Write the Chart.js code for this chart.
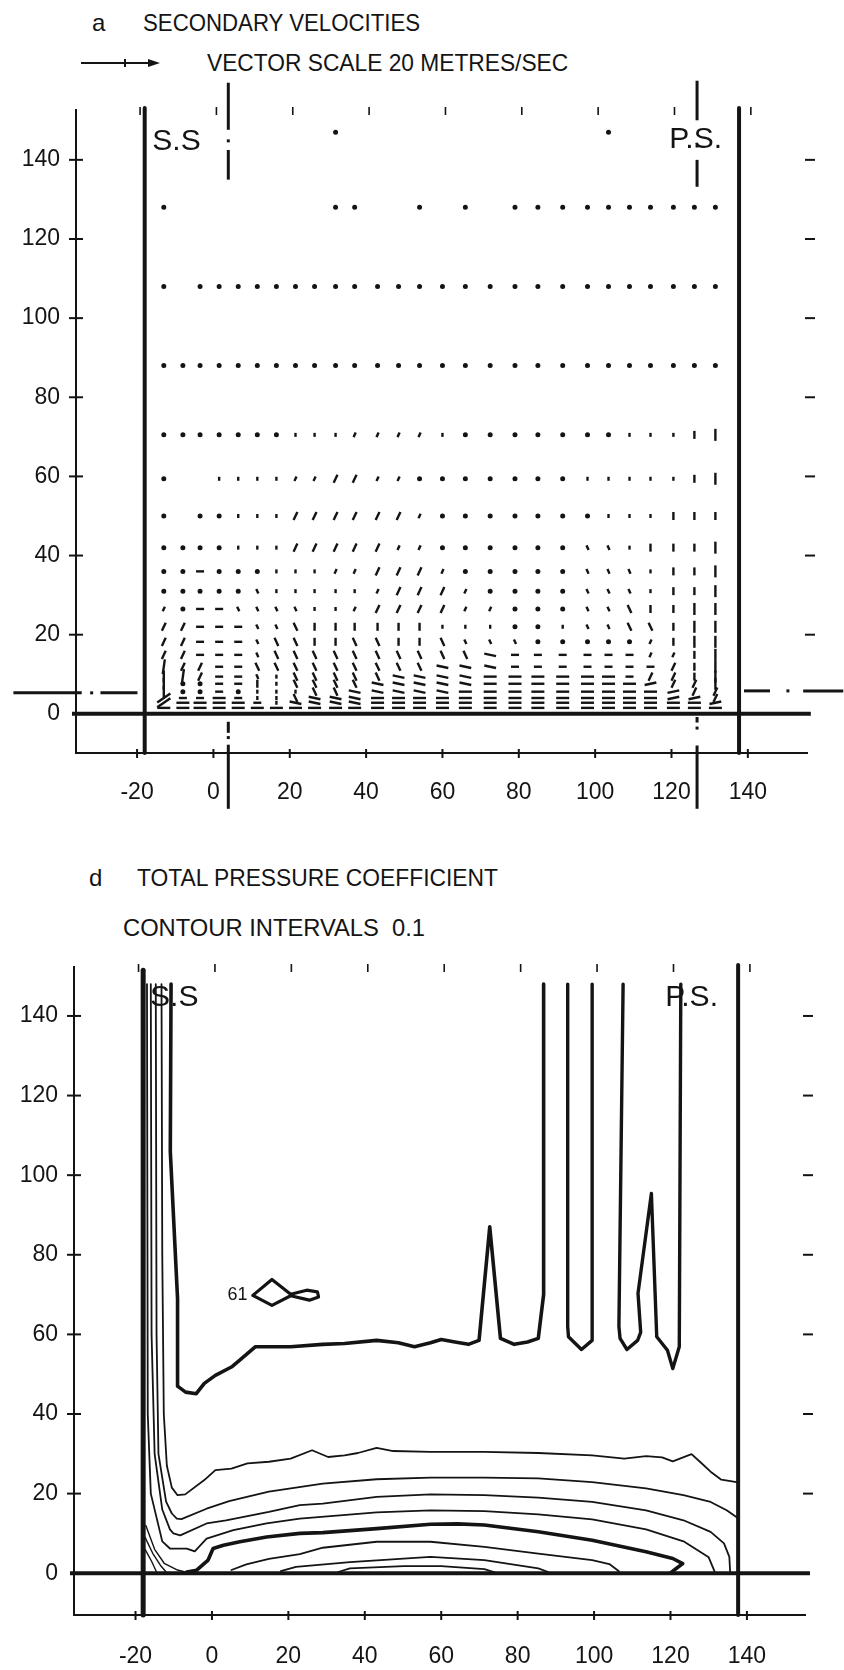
<!DOCTYPE html>
<html>
<head>
<meta charset="utf-8">
<script src="https://cdn.jsdelivr.net/npm/chart.js@4.4.1/dist/chart.umd.min.js"></script>
<style>
  html, body { margin: 0; padding: 0; background: #fff; }
  body { width: 844px; height: 1670px; position: relative; overflow: hidden;
         font-family: 'Liberation Sans Narrow', 'Liberation Sans', sans-serif; color: #141414; }
  .txt { position: absolute; white-space: nowrap; font-size: 24px; line-height: 1; transform-origin: 0 50%; }
  canvas { position: absolute; left: 0; }
</style>
</head>
<body>
<div class="txt" style="left:92px; top:11px;">a</div>
<div class="txt fit" data-w="277" style="left:143px; top:11px;">SECONDARY VELOCITIES</div>
<svg style="position:absolute; left:78px; top:55px;" width="90" height="16">
  <line x1="3" y1="8" x2="74" y2="8" stroke="#141414" stroke-width="2"/>
  <line x1="47" y1="4" x2="47" y2="12" stroke="#141414" stroke-width="2"/>
  <polygon points="70,4 82,8 70,12" fill="#141414"/>
</svg>
<div class="txt fit" data-w="361" style="left:207px; top:51px;">VECTOR SCALE 20 METRES/SEC</div>

<div class="txt" style="left:89px; top:866px;">d</div>
<div class="txt fit" data-w="361" style="left:137px; top:866px;">TOTAL PRESSURE COEFFICIENT</div>
<div class="txt fit" data-w="302" style="left:123px; top:916px;">CONTOUR INTERVALS&nbsp; 0.1</div>

<canvas id="panelA" width="844" height="830" style="top:0px; width:844px; height:830px;"></canvas>
<canvas id="panelD" width="844" height="830" style="top:840px; width:844px; height:830px;"></canvas>

<script>
const ink = '#141414';
const FONT = "'Liberation Sans Narrow', 'Liberation Sans', sans-serif";

// axis ticks, shared by both panels
const xTickValues = [-20, 0, 20, 40, 60, 80, 100, 120, 140];
const yTickValues = [0, 20, 40, 60, 80, 100, 120, 140];

// blade surfaces (suction side / pressure side)
const wallSS = -18;
const wallPS = 137.7;

// ---- panel a: secondary velocity vectors ----
const vecColX = [-13, -8, -3.5, 1.5, 6.5, 11.5, 16.5, 21.5, 26.5, 32, 37, 43, 48.5, 54, 60, 66, 72.5, 79, 85, 91.5, 98, 103.5, 109, 114.5, 120.5, 126, 131.5];
const vecRowY = [147, 128, 108, 88, 70.5, 59.4, 50, 42, 36, 31, 26.5, 22, 18.2, 14.9, 11.9, 9.4, 7.6, 5.6, 4, 2.8, 1.5];
// one glyph per grid column (see vecGlyphs for the meaning)
const vecRows = [
  "         .           .     ",
  ".        ..  . . ..........",
  ". .........................",
  "...........................",
  ".......iii,,,,i.......iiiI|",
  ".  iiii,,//,,.......iiiiiI|",
  ". ..iii//////,.......iiiIII",
  "....iii/////,,......cciIII|",
  "..-...iii,,///,.....ccciII|",
  ".....ciiiii,///,....ccciII|",
  ",.--ccccii,////,,...cckII||",
  "//---cckIIIIIIiii..icckkI||",
  "//---ckkIIkkIIkccc.....,I||",
  "//---ckkkkkkkkkk<------,,I|",
  "(//--kkkkkkkkk<<<-------/I|",
  "|(/--cikkkkk<<<<======-//I|",
  "|..--Iikkkk<<<<<=======>//|",
  "|..-.iiikk<<<<<=========>//",
  "7--=-iik<<<=============>>/",
  "7====-i<<<<===============>",
  "==========================="
];
// glyph -> stroke length (px) and direction (deg)
const vecGlyphs = {
  '.': { len: 0, ang: 0 },
  'i': { len: 4, ang: 90 }, 'I': { len: 8, ang: 90 }, '|': { len: 12, ang: 90 },
  ',': { len: 5, ang: 65 }, '/': { len: 9, ang: 65 }, '7': { len: 16, ang: 35 },
  'c': { len: 5, ang: 115 }, 'k': { len: 9, ang: 115 },
  '-': { len: 8, ang: 0 }, '=': { len: 13, ang: 0 },
  '>': { len: 12, ang: 12 }, '<': { len: 12, ang: 168 },
  '(': { len: 15, ang: 82 }
};

// chain (pitch) lines of panel a: [x1, y1, x2, y2] and single dots
const chainSegsA = [
  [3.9, 159.5, 3.9, 147.6], [3.9, 142.5, 3.9, 135], [3.9, -2, 3.9, -4.8], [3.9, -7.8, 3.9, -24],
  [126.7, 160, 126.7, 150], [126.7, 140, 126.7, 133.2], [126.7, -0.8, 126.7, -2.2], [126.7, -8, 126.7, -24],
  [-52.4, 5.3, -34.5, 5.3], [-29.6, 5.3, -19.9, 5.3],
  [139, 5.8, 145.8, 5.8], [154.5, 5.8, 165, 5.8]
];
const chainDotsA = [[3.9, 144.8], [3.9, -6], [126.7, 143.5], [126.7, -3.6], [-31.9, 5.3], [150.5, 5.8]];

// ---- panel d: total pressure contours ----
const cThickUpper = [[-10.7, 148], [-10.9, 106], [-9.0, 69], [-9.0, 47], [-6.9, 45.5], [-4.1, 45.1], [-2, 47.7], [0.9, 49.7], [5.1, 51.8], [7.2, 53.5], [11.4, 56.9], [20.6, 56.9], [29, 57.5], [34.7, 57.7], [43.1, 58.5], [48.8, 57.9], [53, 56.9], [57.2, 57.9], [60, 58.7], [63.6, 58.1], [67.1, 57.5], [69.9, 58.5], [72.7, 87], [75.5, 59], [79.1, 57.5], [82.6, 58.1], [85.4, 59], [86.8, 70], [86.8, 148]];
const cNotch1 = [[93.1, 148], [93.1, 62], [93.3, 59.4], [96.7, 56.2], [99.5, 58.5], [99.5, 148]];
const cNotch2 = [[107.6, 148], [106.5, 62], [106.8, 59], [108.6, 56.2], [111.4, 58.5], [112.2, 60.5], [111.5, 70.3], [115, 95.4], [116.4, 59.4], [119.2, 56], [120.6, 51.4], [122.3, 56.9], [122.7, 148]];
const cLoop61 = [[10.7, 69.8], [15.7, 73.8], [20.6, 70.1], [24.8, 71.1], [27.6, 70.7], [27.9, 69.4], [25.5, 68.6], [20.6, 69.7], [15.7, 67.3], [10.7, 69.8]];
const cLine1 = [[-13.2, 148], [-13, 80], [-12.6, 40], [-11.8, 27], [-10.5, 21.5], [-9, 19.6], [-7, 19.8], [-2, 23.4], [0.9, 25.9], [5.1, 26.3], [9.3, 27.6], [14.9, 28], [20.6, 28.8], [26.2, 30.9], [30.4, 29.2], [34.7, 29.6], [38.2, 30.2], [43.1, 31.5], [47.4, 30.7], [57.2, 30.5], [71.3, 30.5], [85.4, 30.2], [99.5, 29.6], [107.9, 28.8], [113.6, 29.4], [117.8, 29.1], [120.6, 28.1], [125.5, 29.9], [127.7, 28], [130.5, 25.5], [133.3, 23.5], [137.7, 22.8]];
const cLine2 = [[-14.7, 148], [-14.5, 60], [-14, 30], [-12, 18], [-10.5, 15], [-9.2, 13.7], [-8, 13.6], [-1.4, 16.2], [4.5, 18.1], [14.9, 20.5], [29, 22.5], [43.1, 23.6], [57.2, 24], [71.3, 24], [85.4, 23.8], [99.5, 22.9], [113.6, 21.3], [123.4, 19.6], [130.5, 17.9], [134.7, 15.8], [137.7, 13.8]];
const cLine3 = [[-16, 148], [-15.8, 60], [-15, 30], [-13, 16], [-11, 11], [-10.1, 10], [-8.3, 9.5], [-1.4, 12.5], [3.7, 13.3], [14.9, 15.4], [23, 17.1], [29, 17.5], [43.1, 19.2], [57.2, 19.8], [71.3, 19.6], [85.4, 19], [99.5, 17.9], [113.6, 15.8], [123.4, 13.3], [130.5, 10.4], [134, 7.5], [135.4, 4.1], [135.6, 0.5]];
const cLine4 = [[-17, 148], [-16.8, 40], [-16, 20], [-13, 8], [-11, 6.2], [-6.6, 6.2], [-4.5, 5.5], [-1.4, 8.7], [5.6, 10.8], [14.3, 12.5], [23, 13.7], [43.1, 15.3], [57.2, 15.8], [71.3, 15.6], [85.4, 14.8], [99.5, 13.5], [113.6, 11], [123.4, 8], [130, 4], [131.5, 0.5]];
const cThickLower = [[-6.6, 0.3], [-4, 0.75], [-1, 3.3], [0.3, 6.2], [3, 7], [7.3, 7.9], [14.3, 9.1], [23, 10], [29, 10.2], [43.1, 11.2], [57.2, 12.3], [64.3, 12.4], [71.3, 12.1], [85.4, 10.4], [99.5, 8.3], [113.6, 5.4], [120.6, 3.7], [123.2, 2.4], [121.5, 1.2], [120, 0.1]];
const cLine6 = [[5.1, 0.8], [9, 2.2], [14.9, 3.6], [23, 4.8], [29, 6.4], [43.1, 7.9], [57.2, 7.9], [71.3, 6.6], [85.4, 4.9], [99.5, 3.3], [104, 2.3], [106.5, 0.5]];
const cLine7 = [[18, 0.5], [22, 1.6], [36.1, 2.8], [57.2, 4.1], [71.3, 3.3], [85.4, 1.2], [88, 0.3]];
const cLine8 = [[33, 0.3], [36.1, 1.2], [50.2, 1.8], [60, 1.8], [71.3, 1], [74, 0.2]];
const cCorner = [
  [[-17.5, 9], [-15.5, 5], [-13.5, 2], [-12, 0.3]],
  [[-17.5, 6], [-15.8, 3], [-14.5, 0.3]],
  [[-17.3, 12], [-15, 6], [-12.5, 2.5], [-9, 0.8], [-7, 0.3]]
];

// ---------------------------------------------------------------
const toXY = arr => arr.map(([x, y]) => ({ x, y }));

function lineSet(points, width) {
  return { data: toXY(points), showLine: true, borderColor: ink, borderWidth: width,
           pointRadius: 0, borderJoinStyle: 'round', borderCapStyle: 'round', clip: false };
}

function vectorPoints() {
  const pts = [];
  vecRows.forEach((row, r) => {
    for (let c = 0; c < vecColX.length; c++) {
      const g = row[c];
      if (!g || g === ' ') continue;
      pts.push({ x: vecColX[c], y: vecRowY[r], g });
    }
  });
  return pts;
}

// draws the plotter furniture: zero line, tick crosses, chain lines, labels
const plotter = {
  id: 'plotter',
  afterDraw(chart, args, p) {
    const { ctx, chartArea: a } = chart;
    const X = v => chart.scales.x.getPixelForValue(v);
    const Y = v => chart.scales.y.getPixelForValue(v);
    const seg = (x1, y1, x2, y2, w) => {
      ctx.lineWidth = w; ctx.beginPath(); ctx.moveTo(x1, y1); ctx.lineTo(x2, y2); ctx.stroke();
    };
    ctx.save();
    ctx.strokeStyle = ink; ctx.fillStyle = ink;

    seg(a.left - 4, Y(0), X(p.zeroEnd), Y(0), 4);
    yTickValues.forEach(v => {
      if (!v) return;
      seg(a.left - 7, Y(v), a.left + 7, Y(v), 2);
      seg(a.right - 2, Y(v), a.right + 8, Y(v), 2);
    });
    xTickValues.forEach(v => {
      seg(X(v), a.bottom - 4, X(v), a.bottom + 5, 2);
      seg(X(v) + 3, a.top - 3, X(v) + 3, a.top + 5, 1.6);
    });

    (p.chainSegs || []).forEach(s => seg(X(s[0]), Y(s[1]), X(s[2]), Y(s[3]), 3));
    (p.chainDots || []).forEach(d => ctx.fillRect(X(d[0]) - 1.5, Y(d[1]) - 1.5, 3, 3));

    ctx.textBaseline = 'middle';
    (p.labels || []).forEach(l => {
      ctx.font = l.size + 'px ' + FONT;
      ctx.textAlign = l.align || 'left';
      ctx.fillText(l.text, X(l.x), Y(l.y));
    });
    ctx.restore();
  }
};

function makePanel(id, panel, datasets) {
  const tickFont = { family: FONT, size: 23 };
  return new Chart(document.getElementById(id), {
    type: 'scatter',
    data: { datasets },
    options: {
      responsive: false, animation: false, events: [],
      layout: { padding: { left: 0, right: 844 - panel.right, top: panel.top, bottom: 0 } },
      plugins: { legend: { display: false }, tooltip: { enabled: false }, plotter: panel },
      scales: {
        x: {
          type: 'linear', min: panel.xMin, max: panel.xMax,
          afterBuildTicks: s => { s.ticks = xTickValues.map(v => ({ value: v })); },
          afterFit: s => { s.height = panel.height - panel.bottom; },
          grid: { display: false, drawTicks: false },
          border: { display: true, color: ink, width: 2 },
          ticks: { color: ink, font: tickFont, padding: panel.xLabelPad, maxRotation: 0, autoSkip: false,
                   callback: v => String(v) }
        },
        y: {
          type: 'linear', min: panel.yMin, max: panel.yMax,
          afterBuildTicks: s => { s.ticks = yTickValues.map(v => ({ value: v })); },
          afterFit: s => { s.width = panel.left; },
          grid: { display: false, drawTicks: false },
          border: { display: true, color: ink, width: 2 },
          ticks: { color: ink, font: tickFont, padding: 16, autoSkip: false, callback: v => String(v) }
        }
      }
    },
    plugins: [plotter]
  });
}

// panel a
makePanel('panelA', {
  left: 76, right: 807, top: 110, bottom: 753, height: 830, xLabelPad: 26,
  xMin: -36, xMax: 155.5, yMin: -9.9, yMax: 152.6, zeroEnd: 156.5,
  chainSegs: chainSegsA, chainDots: chainDotsA,
  labels: [{ text: 'S.S', x: -16, y: 144.6, size: 30 }, { text: 'P.S.', x: 119.4, y: 145, size: 30 }]
}, [
  {
    data: vectorPoints(),
    pointStyle: c => (c.raw && vecGlyphs[c.raw.g].len ? 'line' : 'circle'),
    pointRadius: c => (c.raw && vecGlyphs[c.raw.g].len ? vecGlyphs[c.raw.g].len / 2 : 1.3),
    pointRotation: c => (c.raw ? -vecGlyphs[c.raw.g].ang : 0),
    pointBorderWidth: 2.4, pointBorderColor: ink, pointBackgroundColor: ink, clip: false
  },
  lineSet([[wallSS, -9.9], [wallSS, 153.1]], 4),
  lineSet([[wallPS, -9.9], [wallPS, 153.1]], 4)
]);

// panel d
makePanel('panelD', {
  left: 74, right: 805, top: 127, bottom: 775, height: 830, xLabelPad: 28,
  xMin: -36.1, xMax: 155.2, yMin: -10.5, yMax: 152.3, zeroEnd: 156.5,
  labels: [{ text: 'S.S', x: -16.2, y: 144.5, size: 30 }, { text: 'P.S.', x: 118.6, y: 144.5, size: 30 },
           { text: '61', x: 9.3, y: 69.8, size: 18, align: 'right' }]
}, [
  lineSet([[wallSS, -10.5], [wallSS, 151.5]], 5),
  lineSet([[wallPS, -10.5], [wallPS, 152.8]], 4),
  lineSet(cThickUpper, 3.6),
  lineSet(cNotch1, 3.4),
  lineSet(cNotch2, 3.4),
  lineSet(cLoop61, 3.2),
  lineSet(cLine1, 1.8),
  lineSet(cLine2, 1.8),
  lineSet(cLine3, 1.8),
  lineSet(cLine4, 1.8),
  lineSet(cThickLower, 3.6),
  lineSet(cLine6, 1.8),
  lineSet(cLine7, 1.8),
  lineSet(cLine8, 1.8),
  ...cCorner.map(c => lineSet(c, 1.4))
]);

// stretch the heading texts to the widths of the original lettering
document.querySelectorAll('.fit').forEach(el => {
  const w = el.getBoundingClientRect().width;
  el.style.transform = 'scaleX(' + (Number(el.dataset.w) / w).toFixed(3) + ')';
});
</script>
</body>
</html>
